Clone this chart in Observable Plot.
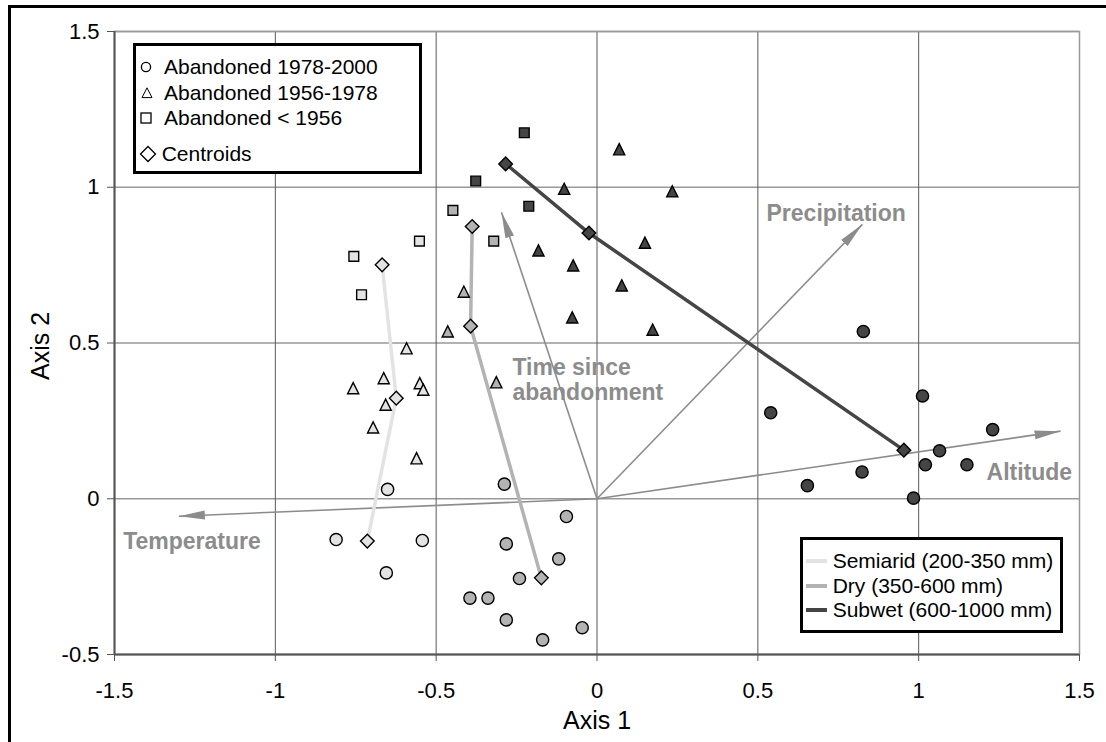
<!DOCTYPE html>
<html><head><meta charset="utf-8">
<script src="https://cdn.jsdelivr.net/npm/d3@7"></script>
<script src="https://cdn.jsdelivr.net/npm/@observablehq/plot@0.6"></script>
<style>
body{margin:0;background:#fff;font-family:"Liberation Sans",Arial,Helvetica,sans-serif;}
#wrap{position:relative;width:1106px;height:742px;overflow:hidden;background:#fff;}
#wrap svg{position:absolute;left:0;top:0;}
#border{position:absolute;left:8px;top:5px;right:-10px;bottom:-10px;border-left:3px solid #000;border-top:3px solid #000;pointer-events:none;}
.legend{position:absolute;background:#fff;border:3px solid #000;box-sizing:border-box;font-size:21px;color:#000;}
.item{position:absolute;height:26px;line-height:26px;white-space:nowrap;}
.sym{position:absolute;width:20px;height:20px;}
.sw{position:absolute;height:4px;width:21px;}
</style></head><body><div id="wrap"></div>
<script>
// ---------- categories ----------
const zones = ["Semiarid (200-350 mm)", "Dry (350-600 mm)", "Subwet (600-1000 mm)"];
const periods = ["Abandoned 1978-2000", "Abandoned 1956-1978", "Abandoned < 1956"];
const centroidLabel = "Centroids";

// ---------- plot scores [Axis 1, Axis 2] ----------
const semiarid_1978_2000 = [[-0.651,0.030],[-0.811,-0.131],[-0.543,-0.134],[-0.655,-0.238]];
const semiarid_1956_1978 = [[-0.592,0.483],[-0.663,0.387],[-0.758,0.355],[-0.551,0.371],[-0.540,0.350],[-0.657,0.302],[-0.696,0.229],[-0.561,0.130]];
const semiarid_before_1956 = [[-0.552,0.827],[-0.756,0.778],[-0.732,0.655]];
const dry_1978_2000 = [[-0.288,0.047],[-0.095,-0.057],[-0.282,-0.145],[-0.119,-0.193],[-0.241,-0.256],[-0.395,-0.319],[-0.339,-0.319],[-0.282,-0.389],[-0.046,-0.414],[-0.169,-0.453]];
const dry_1956_1978 = [[-0.464,0.537],[-0.313,0.374],[-0.414,0.665]];
const dry_before_1956 = [[-0.448,0.926],[-0.321,0.827]];
const subwet_1978_2000 = [[0.828,0.537],[0.540,0.276],[1.012,0.330],[1.230,0.222],[1.065,0.154],[1.021,0.109],[1.150,0.109],[0.824,0.086],[0.654,0.042],[0.984,0.002]];
const subwet_1956_1978 = [[0.069,1.122],[-0.102,0.995],[0.234,0.987],[0.149,0.822],[-0.182,0.797],[-0.074,0.749],[0.077,0.685],[-0.077,0.582],[0.173,0.543]];
const subwet_before_1956 = [[-0.226,1.175],[-0.377,1.020],[-0.212,0.939]];

// ---------- centroids (< 1956, 1956-1978, 1978-2000) ----------
const semiarid_centroids = [[-0.668,0.751],[-0.624,0.323],[-0.714,-0.136]];
const dry_centroids = [[-0.388,0.874],[-0.393,0.554],[-0.173,-0.254]];
const subwet_centroids = [[-0.284,1.075],[-0.025,0.853],[0.954,0.156]];

// ---------- environmental vectors ----------
const vectorNames = ["Temperature", "Altitude", "Precipitation", "Time since\nabandonment"];
const vectorX = [-1.300, 1.441, 0.825, -0.297];
const vectorY = [-0.056, 0.217, 0.881, 0.920];
const vectorLabelX = [-1.473, 1.211, 0.527, -0.263];
const vectorLabelY = [-0.135, 0.088, 0.917, 0.384];

// ---------- ticks ----------
const xTicks = [-1.5, -1, -0.5, 0, 0.5, 1, 1.5];
const yTicks = [-0.5, 0, 0.5, 1, 1.5];
const xTitle = "Axis 1";
const yTitle = "Axis 2";

// ---------- build tables ----------
const rows = (arr, zone, period) => arr.map(([x, y]) => ({x, y, zone, period}));
const points = [
  ...rows(semiarid_1978_2000, zones[0], periods[0]), ...rows(semiarid_1956_1978, zones[0], periods[1]), ...rows(semiarid_before_1956, zones[0], periods[2]),
  ...rows(dry_1978_2000, zones[1], periods[0]), ...rows(dry_1956_1978, zones[1], periods[1]), ...rows(dry_before_1956, zones[1], periods[2]),
  ...rows(subwet_1978_2000, zones[2], periods[0]), ...rows(subwet_1956_1978, zones[2], periods[1]), ...rows(subwet_before_1956, zones[2], periods[2])
];
const centroids = [
  ...rows(semiarid_centroids, zones[0], centroidLabel),
  ...rows(dry_centroids, zones[1], centroidLabel),
  ...rows(subwet_centroids, zones[2], centroidLabel)
];
const vectors = vectorNames.map((name, i) => ({name, x2: vectorX[i], y2: vectorY[i], lx: vectorLabelX[i], ly: vectorLabelY[i]}));

const zoneColors = ["#e3e3e3", "#b3b3b3", "#454545"];
const vecColor = "#8c8c8c";

const triSym = {draw(ctx, size) { const h = Math.sqrt(size); ctx.moveTo(0, -h/2); ctx.lineTo(h/2, h/2); ctx.lineTo(-h/2, h/2); ctx.closePath(); }};
const diaSym = {draw(ctx, size) { const h = Math.sqrt(size)/2; ctx.moveTo(0, -h); ctx.lineTo(h, 0); ctx.lineTo(0, h); ctx.lineTo(-h, 0); ctx.closePath(); }};
const sqSym = {draw(ctx, size) { const h = Math.sqrt(size)/2; ctx.moveTo(-h, -h); ctx.lineTo(h, -h); ctx.lineTo(h, h); ctx.lineTo(-h, h); ctx.closePath(); }};

const byPeriod = p => points.filter(d => d.period === p);

const chart = Plot.plot({
  width: 1106, height: 742,
  marginLeft: 114, marginRight: 27, marginTop: 31, marginBottom: 88,
  style: {fontFamily: '"Liberation Sans", Arial, Helvetica, sans-serif', fontSize: "22px", background: "transparent", color: "#000"},
  x: {domain: [-1.5, 1.5], label: null},
  y: {domain: [-0.5, 1.5], label: null},
  color: {domain: zones, range: zoneColors},
  marks: [
    Plot.gridY({ticks: yTicks, stroke: "#999", strokeOpacity: 1, strokeWidth: 1.5}),
    Plot.gridX({ticks: xTicks, stroke: "#5a5a5a", strokeOpacity: 1, strokeWidth: 1}),
    Plot.frame({stroke: "#999", strokeWidth: 1.5}),
    Plot.ruleX([xTicks[0]], {stroke: "#555", strokeWidth: 2}),
    Plot.ruleY([yTicks[0]], {stroke: "#555", strokeWidth: 2}),
    Plot.link(vectors, {x1: 0, y1: 0, x2: "x2", y2: "y2", stroke: vecColor, strokeWidth: 1.6}),
    Plot.text(vectors, {x: "lx", y: "ly", text: "name", textAnchor: "start", fontSize: 23, fontWeight: "bold", fill: vecColor, lineHeight: 1.117}),
    Plot.line(centroids, {x: "x", y: "y", z: "zone", stroke: "zone", strokeWidth: 3.5}),
    Plot.dot(byPeriod(periods[2]), {x: "x", y: "y", fill: "zone", stroke: "#000", strokeWidth: 1.4, r: 5.5, symbol: sqSym}),
    Plot.dot(byPeriod(periods[1]), {x: "x", y: "y", fill: "zone", stroke: "#000", strokeWidth: 1.4, r: 6.3, symbol: triSym}),
    Plot.dot(byPeriod(periods[0]), {x: "x", y: "y", fill: "zone", stroke: "#000", strokeWidth: 1.4, r: 6.1, symbol: "circle"}),
    Plot.dot(centroids, {x: "x", y: "y", fill: "zone", stroke: "#000", strokeWidth: 1.4, r: 7.7, symbol: diaSym}),
    Plot.axisX({ticks: xTicks, tickFormat: d => String(d), tickSize: 7, tickPadding: 21, stroke: "#555", label: null}),
    Plot.axisY({ticks: yTicks, tickFormat: d => String(d), tickSize: 7, tickPadding: 8, stroke: "#555", label: null}),
    Plot.text([xTitle], {text: d => d, frameAnchor: "bottom", lineAnchor: "middle", textAnchor: "middle", dy: 66, fontSize: 25}),
    Plot.text([yTitle], {text: d => d, frameAnchor: "left", lineAnchor: "middle", textAnchor: "middle", dx: -74, dy: 3, rotate: -90, fontSize: 25})
  ]
});

// filled arrowheads for the vectors
const sel = d3.select(chart);
const defs = sel.insert("defs", ":first-child");
defs.append("marker").attr("id", "ah").attr("markerUnits", "userSpaceOnUse")
  .attr("viewBox", "0 0 26 10").attr("refX", 26).attr("refY", 5)
  .attr("markerWidth", 26).attr("markerHeight", 10).attr("orient", "auto")
  .append("path").attr("d", "M0,0.5L26,5L0,9.5Z").attr("fill", vecColor);
sel.selectAll('g[aria-label="link"] path').attr("marker-end", "url(#ah)");

const wrap = document.getElementById("wrap");
wrap.appendChild(chart);

// ---------- legends ----------
function symSvg(kind) {
  const s = 'fill="#fff" stroke="#000" stroke-width="1.3"';
  if (kind === "circle") return `<svg class="sym" viewBox="0 0 20 20"><circle cx="10" cy="10" r="4.6" ${s}/></svg>`;
  if (kind === "triangle") return `<svg class="sym" viewBox="0 0 20 20"><path d="M10,4.8L15,14.6L5,14.6Z" fill="#fff" stroke="#000" stroke-width="1"/></svg>`;
  if (kind === "square") return `<svg class="sym" viewBox="0 0 20 20"><rect x="5" y="5" width="10" height="10" ${s}/></svg>`;
  return `<svg class="sym" viewBox="0 0 20 20"><path d="M10,2.5L17.5,10L10,17.5L2.5,10Z" ${s}/></svg>`;
}
const leg1 = document.createElement("div");
leg1.className = "legend";
Object.assign(leg1.style, {left: "133px", top: "43px", width: "289px", height: "131px"});
const leg1Items = [
  {label: periods[0], kind: "circle", cx: 9.7, cy: 20.7, tx: 28},
  {label: periods[1], kind: "triangle", cx: 10.7, cy: 46.7, tx: 28},
  {label: periods[2], kind: "square", cx: 9.7, cy: 71.7, tx: 28},
  {label: centroidLabel, kind: "diamond", cx: 12.3, cy: 107.7, tx: 25.7}
];
leg1Items.forEach(it => {
  const wrapSym = document.createElement("div");
  wrapSym.innerHTML = symSvg(it.kind);
  const s = wrapSym.firstChild;
  s.style.left = (it.cx - 10) + "px"; s.style.top = (it.cy - 10) + "px";
  leg1.appendChild(s);
  const t = document.createElement("div");
  t.className = "item"; t.textContent = it.label;
  t.style.left = it.tx + "px"; t.style.top = (it.cy - 13) + "px";
  leg1.appendChild(t);
});
wrap.appendChild(leg1);

const leg2 = document.createElement("div");
leg2.className = "legend";
Object.assign(leg2.style, {left: "800px", top: "537px", width: "263px", height: "96px"});
const leg2Y = [20.7, 45.7, 70];
zones.forEach((z, i) => {
  const sw = document.createElement("div");
  sw.className = "sw"; sw.style.background = zoneColors[i];
  sw.style.left = "2.7px"; sw.style.top = (leg2Y[i] - 2) + "px";
  leg2.appendChild(sw);
  const t = document.createElement("div");
  t.className = "item"; t.textContent = z;
  t.style.left = "29.7px"; t.style.top = (leg2Y[i] - 13) + "px";
  leg2.appendChild(t);
});
wrap.appendChild(leg2);

const border = document.createElement("div");
border.id = "border";
wrap.appendChild(border);
</script></body></html>
